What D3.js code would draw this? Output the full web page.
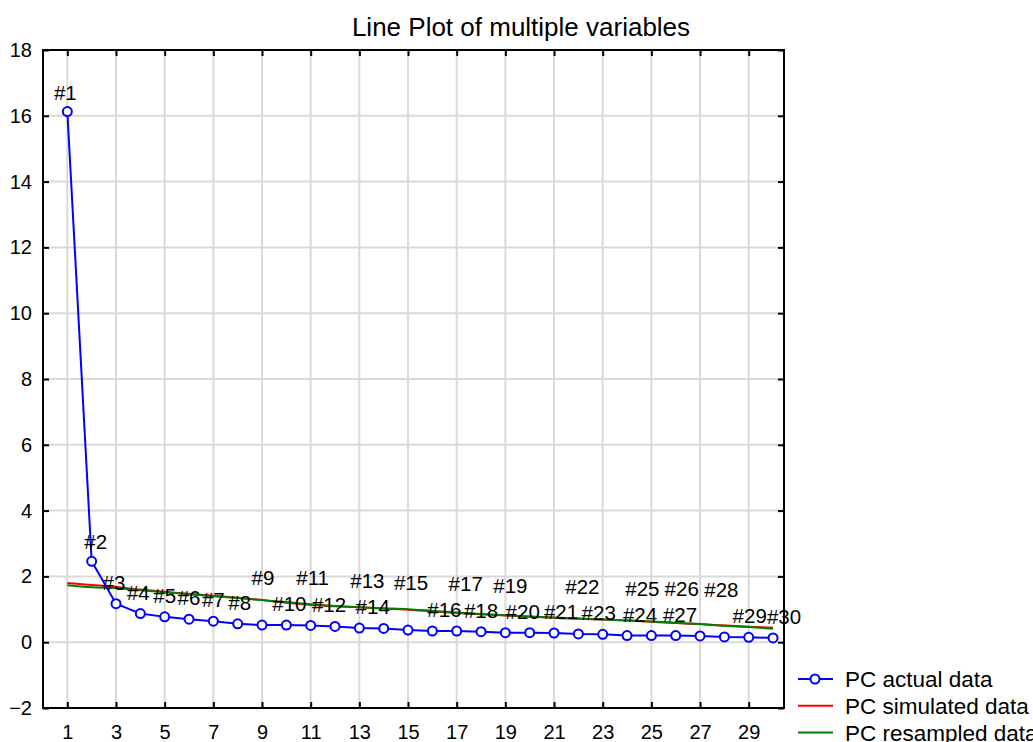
<!DOCTYPE html>
<html>
  <head>
    <meta charset=utf-8>
    <title>Line Plot of multiple variables</title>
    <style>
      body{ margin:0; background:#fff; }
      text{ font-family:"Liberation Sans", Arial, sans-serif; fill:#000; }
      .grid line{ stroke:#d9d9d9; stroke-width:2; }
    </style>
  </head>
  <body>
    <script src="https://d3js.org/d3.v7.min.js"></script>
    <script>
      // component numbers and the three series
      var components = d3.range(1, 31);
      var actual = [16.13, 2.46, 1.17, 0.87, 0.77, 0.70, 0.64, 0.56, 0.52, 0.52,
                    0.51, 0.48, 0.43, 0.42, 0.37, 0.34, 0.34, 0.32, 0.29, 0.29,
                    0.28, 0.25, 0.24, 0.20, 0.20, 0.20, 0.19, 0.16, 0.15, 0.13];
      var simulated = [1.80, 1.74, 1.68, 1.60, 1.53, 1.47, 1.41, 1.35, 1.28, 1.20,
                       1.13, 1.09, 1.06, 1.02, 0.99, 0.94, 0.89, 0.85, 0.81, 0.77,
                       0.74, 0.71, 0.69, 0.66, 0.62, 0.58, 0.55, 0.51, 0.47, 0.44];
      var resampled = [1.73, 1.67, 1.64, 1.58, 1.52, 1.46, 1.40, 1.34, 1.28, 1.22,
                       1.15, 1.10, 1.06, 1.03, 1.00, 0.95, 0.90, 0.86, 0.82, 0.78,
                       0.75, 0.72, 0.69, 0.66, 0.63, 0.59, 0.55, 0.50, 0.46, 0.41];
      // labels lifted one row to dodge their neighbours
      var raisedLabels = [9, 11, 13, 15, 17, 19, 22, 25, 26, 28];
      var xTicks = [1, 3, 5, 7, 9, 11, 13, 15, 17, 19, 21, 23, 25, 27, 29];
      var yTicks = [-2, 0, 2, 4, 6, 8, 10, 12, 14, 16, 18];
      var seriesNames = ["PC actual data", "PC simulated data", "PC resampled data"];
      var seriesColors = ["#0000ff", "#ff0000", "#008000"];

      // layout: sideways nudge (px) of each point label, as placed in the original
      var labelNudge = [-2, 4, -2, -2, 0, 0, 0, 2, 1, 3,
                        2, -6, 8, -11, 3, 12, 9, 0, 5, -7,
                        7, 4, -4, 13, -9, 6, -20, -3, 1, 11];

      var W = 1033, H = 742;
      var plot = {left: 43, right: 784, top: 50, bottom: 708};

      var svg = d3.select("body").append("svg")
        .attr("width", W)
        .attr("height", H);

      var x = d3.scaleLinear().domain([0, 30.45]).range([plot.left, plot.right]);
      var y = d3.scaleLinear().domain([-2, 18]).range([plot.bottom, plot.top]);

      // grid
      var grid = svg.append("g").attr("class", "grid");
      grid.selectAll(".gx").data(xTicks).enter().append("line")
        .attr("x1", function(d){ return x(d); }).attr("x2", function(d){ return x(d); })
        .attr("y1", plot.top).attr("y2", plot.bottom);
      grid.selectAll(".gy").data(yTicks).enter().append("line")
        .attr("x1", plot.left).attr("x2", plot.right)
        .attr("y1", function(d){ return y(d); }).attr("y2", function(d){ return y(d); });

      // axes: ticks point inward on all four sides
      var axisStyle = function(g){
        g.select(".domain").remove();
        g.selectAll(".tick line").attr("stroke", "#000").attr("stroke-width", 2);
        g.selectAll(".tick text").attr("font-family", "Liberation Sans, Arial, sans-serif")
          .attr("font-size", 20).attr("fill", "#000");
      };
      svg.append("g").attr("transform", "translate(0," + plot.bottom + ")")
        .call(d3.axisBottom(x).tickValues(xTicks).tickSizeInner(-6).tickPadding(17).tickFormat(d3.format("d")))
        .call(axisStyle);
      svg.append("g").attr("transform", "translate(0," + plot.top + ")")
        .call(d3.axisTop(x).tickValues(xTicks).tickSizeInner(-6).tickFormat(""))
        .call(axisStyle);
      svg.append("g").attr("transform", "translate(" + plot.left + ",0)")
        .call(d3.axisLeft(y).tickValues(yTicks).tickSizeInner(-6).tickPadding(11).tickFormat(d3.format("d")))
        .call(axisStyle);
      svg.append("g").attr("transform", "translate(" + plot.right + ",0)")
        .call(d3.axisRight(y).tickValues(yTicks).tickSizeInner(-6).tickFormat(""))
        .call(axisStyle);

      svg.append("rect")
        .attr("x", plot.left).attr("y", plot.top)
        .attr("width", plot.right - plot.left).attr("height", plot.bottom - plot.top)
        .attr("fill", "none").attr("stroke", "#000").attr("stroke-width", 2);

      // lines
      var line = d3.line()
        .x(function(d, i){ return x(components[i]); })
        .y(function(d){ return y(d); });
      var smooth = d3.line()
        .x(function(d, i){ return x(components[i]); })
        .y(function(d){ return y(d); })
        .curve(d3.curveMonotoneX);

      svg.append("path").datum(simulated).attr("d", smooth)
        .attr("fill", "none").attr("stroke", seriesColors[1]).attr("stroke-width", 2);
      svg.append("path").datum(resampled).attr("d", smooth)
        .attr("fill", "none").attr("stroke", seriesColors[2]).attr("stroke-width", 2);
      svg.append("path").datum(actual).attr("d", line)
        .attr("fill", "none").attr("stroke", seriesColors[0]).attr("stroke-width", 2);

      svg.selectAll(".pt").data(actual).enter().append("circle")
        .attr("cx", function(d, i){ return x(components[i]); })
        .attr("cy", function(d){ return y(d); })
        .attr("r", 4.5)
        .attr("fill", "#fff")
        .attr("stroke", seriesColors[0]).attr("stroke-width", 2);

      // point labels
      svg.selectAll(".lbl").data(actual).enter().append("text")
        .attr("x", function(d, i){ return x(components[i]) + labelNudge[i]; })
        .attr("y", function(d, i){
          var lift = raisedLabels.indexOf(components[i]) >= 0 ? 40 : (i < 2 ? 12 : 14);
          return y(d) - lift; })
        .attr("text-anchor", "middle")
        .attr("font-size", 20.5)
        .text(function(d, i){ return "#" + components[i]; });

      // title
      svg.append("text")
        .attr("x", 521).attr("y", 36)
        .attr("text-anchor", "middle")
        .attr("font-size", 26)
        .text("Line Plot of multiple variables");

      // legend
      var legend = svg.append("g").selectAll("g").data(seriesNames).enter().append("g")
        .attr("transform", function(d, i){ return "translate(798," + (679 + i * 26.8) + ")"; });
      legend.append("line")
        .attr("x1", 0).attr("x2", 35).attr("y1", 0).attr("y2", 0)
        .attr("stroke", function(d, i){ return seriesColors[i]; })
        .attr("stroke-width", 2);
      legend.filter(function(d, i){ return i === 0; }).append("circle")
        .attr("cx", 17).attr("cy", 0).attr("r", 4.5)
        .attr("fill", "#fff").attr("stroke", seriesColors[0]).attr("stroke-width", 2);
      legend.append("text")
        .attr("x", 47).attr("y", 8)
        .attr("font-size", 22.5)
        .text(function(d){ return d; });
    </script>
  </body>
</html>
